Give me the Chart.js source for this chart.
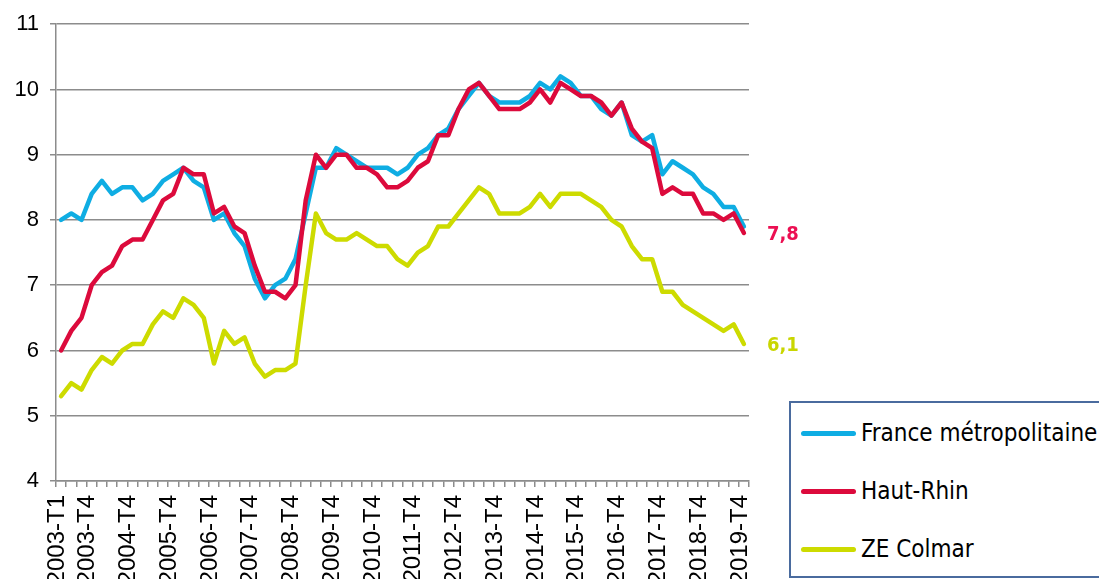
<!DOCTYPE html>
<html>
<head>
<meta charset="utf-8">
<script src="https://cdn.jsdelivr.net/npm/chart.js@4.4.1/dist/chart.umd.min.js"></script>
<style>
  html, body { margin: 0; padding: 0; background: #fff; overflow: hidden; }
  #wrap { position: relative; width: 1099px; height: 579px; overflow: hidden; }
  #c { position: absolute; left: 0; top: 0; }
  #legend {
    position: absolute; left: 789px; top: 401px; width: 340px; height: 173px;
    border: 2px solid #4a6b9e; background: #fff;
    font-family: 'DejaVu Sans Condensed', 'DejaVu Sans', sans-serif; font-stretch: condensed;
    font-size: 24px; color: #000;
  }
  .item { position: absolute; left: 10px; height: 30px; display: flex; align-items: center; white-space: nowrap; }
  .swatch { width: 55px; height: 5px; border-radius: 3px; margin-right: 5px; }
</style>
</head>
<body>
<div id="wrap">
  <canvas id="c" width="1099" height="579"></canvas>
  <div id="legend"></div>
</div>
<script>
const years = [2003,2004,2005,2006,2007,2008,2009,2010,2011,2012,2013,2014,2015,2016,2017,2018,2019];
const quarters = ["T1","T2","T3","T4"];
const categories = [];
years.forEach(y => quarters.forEach(q => categories.push(y + "-" + q)));

const tickLabels = ["2003-T1","2003-T4","2004-T4","2005-T4","2006-T4","2007-T4","2008-T4","2009-T4",
  "2010-T4","2011-T4","2012-T4","2013-T4","2014-T4","2015-T4","2016-T4","2017-T4","2018-T4","2019-T4"];

const seriesNames = ["France métropolitaine", "Haut-Rhin", "ZE Colmar"];

const franceValues = [8.0,8.1,8.0,8.4,8.6,8.4,8.5,8.5,8.3,8.4,
  8.6,8.7,8.8,8.6,8.5,8.0,8.1,7.8,7.6,7.1,
  6.8,7.0,7.1,7.4,8.1,8.8,8.8,9.1,9.0,8.9,
  8.8,8.8,8.8,8.7,8.8,9.0,9.1,9.3,9.4,9.7,
  9.9,10.1,9.9,9.8,9.8,9.8,9.9,10.1,10.0,10.2,
  10.1,9.9,9.9,9.7,9.6,9.8,9.3,9.2,9.3,8.7,
  8.9,8.8,8.7,8.5,8.4,8.2,8.2,7.9];

const hautRhinValues = [6.0,6.3,6.5,7.0,7.2,7.3,7.6,7.7,7.7,8.0,
  8.3,8.4,8.8,8.7,8.7,8.1,8.2,7.9,7.8,7.3,
  6.9,6.9,6.8,7.0,8.3,9.0,8.8,9.0,9.0,8.8,
  8.8,8.7,8.5,8.5,8.6,8.8,8.9,9.3,9.3,9.7,
  10.0,10.1,9.9,9.7,9.7,9.7,9.8,10.0,9.8,10.1,
  10.0,9.9,9.9,9.8,9.6,9.8,9.4,9.2,9.1,8.4,
  8.5,8.4,8.4,8.1,8.1,8.0,8.1,7.8];

const colmarValues = [5.3,5.5,5.4,5.7,5.9,5.8,6.0,6.1,6.1,6.4,
  6.6,6.5,6.8,6.7,6.5,5.8,6.3,6.1,6.2,5.8,
  5.6,5.7,5.7,5.8,7.0,8.1,7.8,7.7,7.7,7.8,
  7.7,7.6,7.6,7.4,7.3,7.5,7.6,7.9,7.9,8.1,
  8.3,8.5,8.4,8.1,8.1,8.1,8.2,8.4,8.2,8.4,
  8.4,8.4,8.3,8.2,8.0,7.9,7.6,7.4,7.4,6.9,
  6.9,6.7,6.6,6.5,6.4,6.3,6.4,6.1];

const colors = ["#0fade3", "#dc0a3c", "#cddb00"];
const endLabelColors = [null, "#ec0f52", "#c9d600"];

const gridColor = "#8c8c8c";
const yTickFont = { family: "'Liberation Sans', Arial, sans-serif", size: 22 };
const xTickFont = { family: "'Liberation Sans', Arial, sans-serif", size: 24 };

const endLabels = {
  id: 'endLabels',
  afterDatasetsDraw(chart) {
    const ctx = chart.ctx;
    ctx.save();
    ctx.font = "bold 20px 'DejaVu Sans Condensed', 'DejaVu Sans', sans-serif";
    try { ctx.fontStretch = 'condensed'; } catch (e) {}
    ctx.textBaseline = 'middle';
    ctx.textAlign = 'left';
    [1, 2].forEach(di => {
      const meta = chart.getDatasetMeta(di);
      const pt = meta.data[meta.data.length - 1];
      const vals = chart.data.datasets[di].data;
      const v = vals[vals.length - 1];
      ctx.fillStyle = endLabelColors[di];
      ctx.fillText(v.toFixed(1).replace('.', ','), pt.x + 23, pt.y + 2);
    });
    ctx.restore();
  }
};

const datasets = [franceValues, hautRhinValues, colmarValues].map((vals, i) => ({
  label: seriesNames[i],
  data: vals,
  borderColor: colors[i],
  backgroundColor: colors[i],
  borderWidth: 4.5,
  pointRadius: 0,
  tension: 0,
  fill: false,
  order: [2, 1, 0][i],
  borderJoinStyle: 'round',
  borderCapStyle: 'round'
}));

new Chart(document.getElementById('c'), {
  type: 'line',
  data: { labels: categories, datasets },
  options: {
    responsive: false,
    animation: false,
    layout: { padding: { top: 21, right: 350, left: 0, bottom: 0 } },
    plugins: { legend: { display: false }, tooltip: { enabled: false } },
    scales: {
      x: {
        type: 'category',
        offset: true,
        grid: { display: true, drawOnChartArea: false, drawTicks: true, tickLength: 6, color: gridColor, lineWidth: 1.5, offset: true },
        border: { display: true, color: gridColor, width: 1.5 },
        ticks: {
          autoSkip: false, maxRotation: 90, minRotation: 90, padding: 8, labelOffset: -4,
          color: '#000', font: xTickFont,
          callback(value, index) {
            const lab = categories[index];
            return tickLabels.includes(lab) ? lab : '';
          }
        },
        afterFit(scale) { scale.height = 98; }
      },
      y: {
        min: 4, max: 11,
        grid: { color: gridColor, lineWidth: 1.5, tickLength: 6, drawTicks: true },
        border: { display: true, color: gridColor, width: 1.5 },
        ticks: { stepSize: 1, padding: 11, color: '#000', font: yTickFont },
        afterFit(scale) { scale.width = 56; }
      }
    }
  },
  plugins: [endLabels]
});

const legend = document.getElementById('legend');
const tops = [15, 73, 131];
seriesNames.forEach((name, i) => {
  const item = document.createElement('div');
  item.className = 'item';
  item.style.top = tops[i] + 'px';
  const sw = document.createElement('div');
  sw.className = 'swatch';
  sw.style.background = colors[i];
  const tx = document.createElement('span');
  tx.textContent = name;
  item.appendChild(sw);
  item.appendChild(tx);
  legend.appendChild(item);
});
</script>
</body>
</html>
